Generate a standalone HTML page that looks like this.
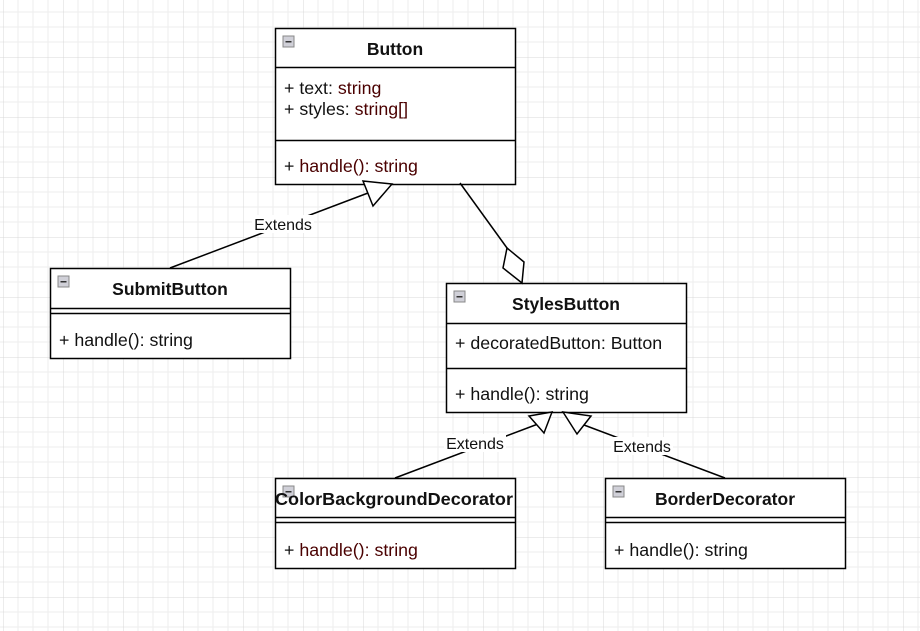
<!DOCTYPE html>
<html><head><meta charset="utf-8"><style>
html,body{margin:0;padding:0;background:#fff}
svg{display:block}
text{font-family:"Liberation Sans",Arial,sans-serif;font-size:17.8px;fill:#111}
.t{font-weight:bold;text-anchor:middle;font-size:17.5px}
.m{fill:#4a0000}
.e{font-size:16px}
</style></head><body>
<svg width="920" height="631" xmlns="http://www.w3.org/2000/svg">
<defs>
<pattern id="g" width="60" height="60" patternUnits="userSpaceOnUse" x="3" y="-3">
<path d="M15 0V60M30 0V60M45 0V60M0 15H60M0 30H60M0 45H60" stroke="#eeeeee" stroke-width="1"/>
<path d="M0 0V60M0 0H60" stroke="#d8d8d8" stroke-width="1"/>
</pattern>
<g id="ic"><rect x="0" y="0" width="11" height="11" fill="#d0d0d8" stroke="#888" stroke-width="1"/><rect x="2.5" y="5" width="6" height="1.5" fill="#333"/></g>
</defs>
<rect width="920" height="631" fill="url(#g)"/>
<g stroke="#000" stroke-width="1.5" fill="#fff">
<rect x="275.5" y="28.5" width="240" height="156"/>
<line x1="275" y1="67.5" x2="515" y2="67.5"/>
<line x1="275" y1="140.5" x2="515" y2="140.5"/>
<rect x="50.5" y="268.5" width="240" height="90"/>
<line x1="50" y1="308.5" x2="290" y2="308.5"/>
<line x1="50" y1="313.5" x2="290" y2="313.5"/>
<rect x="446.5" y="283.5" width="240" height="129"/>
<line x1="446" y1="323.5" x2="686" y2="323.5"/>
<line x1="446" y1="368.5" x2="686" y2="368.5"/>
<rect x="275.5" y="478.5" width="240" height="90"/>
<line x1="275" y1="517.5" x2="515" y2="517.5"/>
<line x1="275" y1="522.5" x2="515" y2="522.5"/>
<rect x="605.5" y="478.5" width="240" height="90"/>
<line x1="605" y1="517.5" x2="845" y2="517.5"/>
<line x1="605" y1="522.5" x2="845" y2="522.5"/>
<line x1="170" y1="268" x2="368" y2="193"/>
<polygon points="392,184 363,181 373,206"/>
<line x1="460" y1="183" x2="507" y2="248"/>
<polygon points="507,248 524,262 522,283 503,268"/>
<line x1="395" y1="478" x2="538" y2="424"/>
<polygon points="552,412 529,416 544,433"/>
<line x1="725" y1="478" x2="584" y2="425"/>
<polygon points="563,412 577,434 591,416"/>
</g>
<rect x="252" y="215" width="62" height="18" fill="#fff"/>
<text class="e" x="283" y="230" text-anchor="middle">Extends</text>
<rect x="444" y="434" width="62" height="18" fill="#fff"/>
<text class="e" x="475" y="449" text-anchor="middle">Extends</text>
<rect x="611" y="437" width="62" height="18" fill="#fff"/>
<text class="e" x="642" y="452" text-anchor="middle">Extends</text>
<use href="#ic" x="283" y="36"/>
<use href="#ic" x="58" y="276"/>
<use href="#ic" x="454" y="291"/>
<use href="#ic" x="283" y="486"/>
<use href="#ic" x="613" y="486"/>
<text class="t" x="395" y="55">Button</text>
<text x="284" y="94">+ text: <tspan class="m">string</tspan></text>
<text x="284" y="115">+ styles: <tspan class="m">string[]</tspan></text>
<text x="284" y="172">+ <tspan class="m">handle(): string</tspan></text>
<text class="t" x="170" y="295">SubmitButton</text>
<text x="59" y="346">+ handle(): string</text>
<text class="t" x="566" y="310">StylesButton</text>
<text x="455" y="349">+ decoratedButton: Button</text>
<text x="455" y="400">+ handle(): string</text>
<text class="t" x="394" y="505" textLength="238" lengthAdjust="spacingAndGlyphs">ColorBackgroundDecorator</text>
<text x="284" y="556">+ <tspan class="m">handle(): string</tspan></text>
<text class="t" x="725" y="505">BorderDecorator</text>
<text x="614" y="556">+ handle(): string</text>
</svg>
</body></html>
